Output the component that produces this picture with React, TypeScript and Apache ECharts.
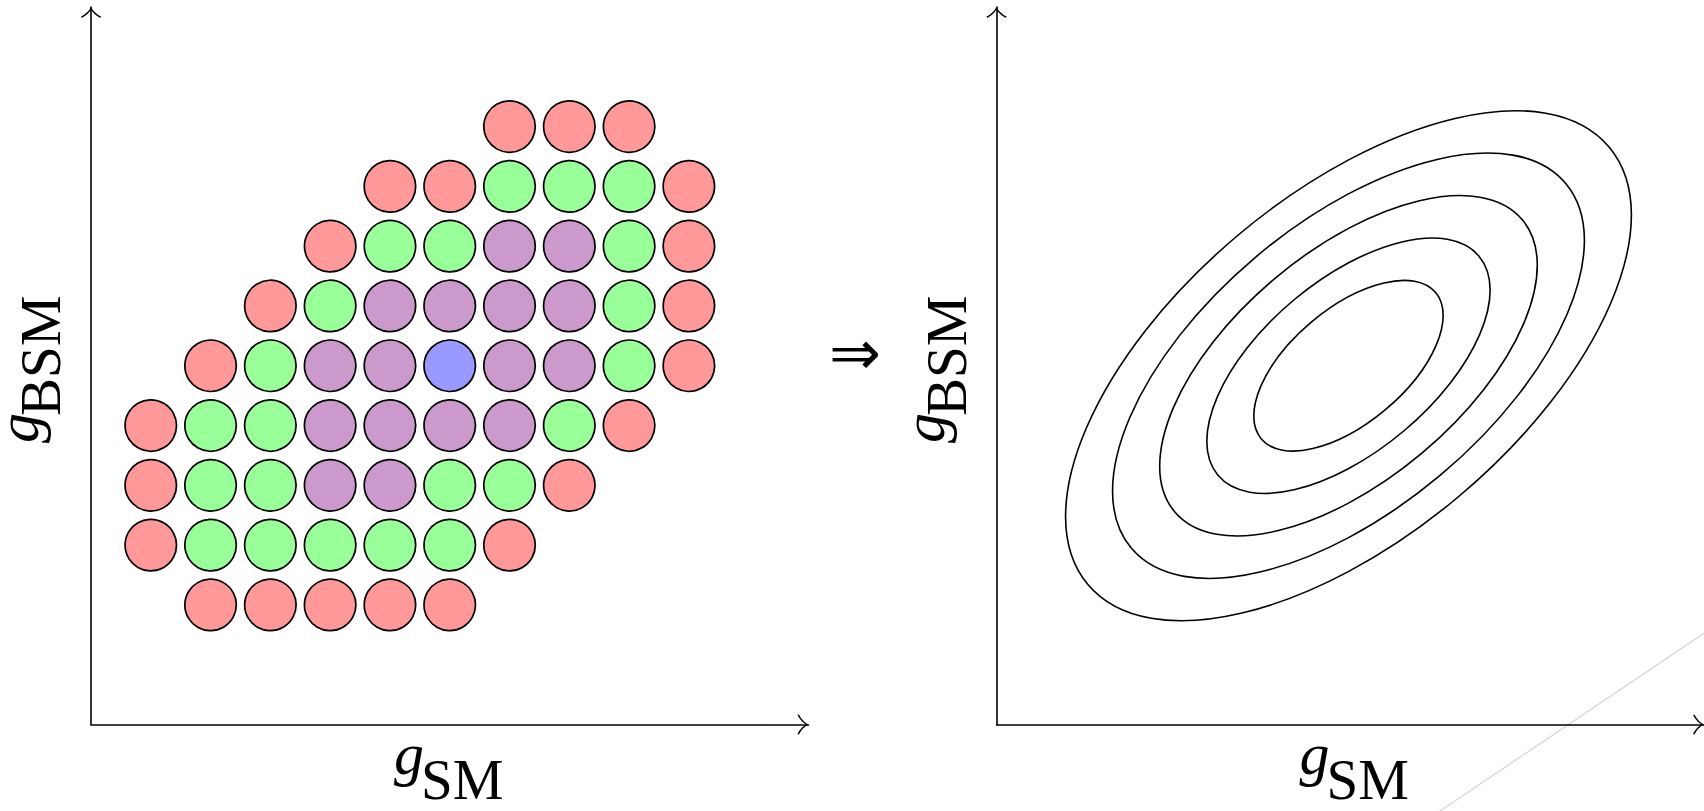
import React, { useEffect, useRef } from "react";
import * as echarts from "echarts";

// ---- data (all in axis units, both axes run 0..12) ----
const axisMin = 0;
const axisMax = 12;

const redCells = [
  [7, 10], [8, 10], [9, 10],
  [5, 9], [6, 9], [10, 9],
  [4, 8], [10, 8],
  [3, 7], [10, 7],
  [2, 6], [10, 6],
  [1, 5], [9, 5],
  [1, 4], [8, 4],
  [1, 3], [7, 3],
  [2, 2], [3, 2], [4, 2], [5, 2], [6, 2],
];
const greenCells = [
  [7, 9], [8, 9], [9, 9],
  [5, 8], [6, 8], [9, 8],
  [4, 7], [9, 7],
  [3, 6], [9, 6],
  [2, 5], [3, 5], [8, 5],
  [2, 4], [3, 4], [6, 4], [7, 4],
  [2, 3], [3, 3], [4, 3], [5, 3], [6, 3],
];
const violetCells = [
  [7, 8], [8, 8],
  [5, 7], [6, 7], [7, 7], [8, 7],
  [4, 6], [5, 6], [7, 6], [8, 6],
  [4, 5], [5, 5], [6, 5], [7, 5],
  [4, 4], [5, 4],
];
const blueCells = [[6, 6]];

// concentric contour ellipses
const contourCenter = [5.97, 6.0];
const contourSemiMajor = [5.77, 4.81, 3.85, 2.89, 1.93];
const contourSemiMinor = [2.86, 2.39, 1.91, 1.43, 0.96];
const contourTiltDeg = 40;

const labelMain = "g";
const xLabelSub = "SM";
const yLabelSub = "BSM";
const implies = "\u21D2";

// ---- styling ----
const arrowPath =
  "path://M10,0 Q7,6 0,9.6 L0.6,11 Q7.6,7.4 10,2.3 Q12.4,7.4 19.4,11 L20,9.6 Q13,6 10,0 Z";

function makeAxis(gridIndex: number) {
  return {
    type: "value",
    gridIndex,
    min: axisMin,
    max: axisMax,
    axisLine: {
      show: true,
      onZero: false,
      symbol: ["none", arrowPath],
      symbolSize: [20, 11],
      symbolOffset: [0, -5.5],
      lineStyle: { color: "#000", width: 1.6 },
    },
    axisTick: { show: false },
    axisLabel: { show: false },
    splitLine: { show: false },
  };
}

function mathLabel(sub: string, x: number, y: number, rotation: number, width: number, gShift: number) {
  const u0 = -width / 2;
  return {
    type: "group",
    x,
    y,
    rotation,
    silent: true,
    children: [
      {
        type: "text",
        x: u0 + 1,
        y: -45 + gShift,
        style: {
          text: labelMain,
          font: 'italic 60px "Liberation Serif"',
          fill: "#000",
          align: "left",
          verticalAlign: "middle",
          textAlign: "left",
          textVerticalAlign: "middle",
        },
      },
      {
        type: "text",
        x: u0 + 28,
        y: -19.4,
        style: {
          text: sub,
          font: '57px "Liberation Serif"',
          fill: "#000",
          align: "left",
          verticalAlign: "middle",
          textAlign: "left",
          textVerticalAlign: "middle",
        },
      },
    ],
  };
}

function cellSeries(data: number[][], color: string) {
  return {
    type: "scatter",
    xAxisIndex: 0,
    yAxisIndex: 0,
    data,
    symbol: "circle",
    symbolSize: 51.5,
    silent: true,
    itemStyle: { color, borderColor: "#000", borderWidth: 1.7, opacity: 1 },
  };
}

export default function App() {
  const ref = useRef<HTMLDivElement>(null);
  useEffect(() => {
    if (!ref.current) return;
    const chart = echarts.init(ref.current, undefined, { renderer: "svg" });
    const option: any = {
      animation: false,
      backgroundColor: "#fff",
      grid: [
        { left: 91, top: 7, width: 717.5, height: 717.5 },
        { left: 996.5, top: 7, width: 717.5, height: 717.5 },
      ],
      xAxis: [makeAxis(0), makeAxis(1)],
      yAxis: [makeAxis(0), makeAxis(1)],
      series: [
        cellSeries(redCells, "#ff9999"),
        cellSeries(greenCells, "#99ff99"),
        cellSeries(violetCells, "#cc99cc"),
        cellSeries(blueCells, "#9999ff"),
        {
          type: "custom",
          coordinateSystem: "cartesian2d",
          xAxisIndex: 1,
          yAxisIndex: 1,
          silent: true,
          encode: { x: 0, y: 1 },
          data: contourSemiMajor.map((a, i) => [
            contourCenter[0],
            contourCenter[1],
            a,
            contourSemiMinor[i],
          ]),
          renderItem: (params: any, api: any) => {
            const c = api.coord([api.value(0), api.value(1)]);
            const rx = api.size([api.value(2), 0])[0];
            const ry = api.size([0, api.value(3)])[1];
            return {
              type: "ellipse",
              x: c[0],
              y: c[1],
              rotation: (contourTiltDeg * Math.PI) / 180,
              shape: { cx: 0, cy: 0, rx, ry },
              style: { fill: "none", stroke: "#000", lineWidth: 1.6 },
            };
          },
        },
      ],
      graphic: [
        mathLabel(xLabelSub, 447.5, 798.5, 0, 109, 0),
        mathLabel(xLabelSub, 1353, 798.5, 0, 109, 0),
        mathLabel(yLabelSub, 60, 368.5, Math.PI / 2, 151, 3),
        mathLabel(yLabelSub, 965.5, 368.5, Math.PI / 2, 151, 3),
        {
          type: "text",
          x: 855,
          y: 352,
          silent: true,
          style: {
            text: implies,
            font: '62px "DejaVu Sans"',
            fill: "#000",
            align: "center",
            verticalAlign: "middle",
            textAlign: "center",
            textVerticalAlign: "middle",
          },
        },
        {
          type: "line",
          silent: true,
          shape: { x1: 1420, y1: 824.5, x2: 1760, y2: 595.6 },
          style: { stroke: "#d4d4d4", lineWidth: 1.2 },
        },
      ],
    };
    chart.setOption(option);
    return () => chart.dispose();
  }, []);
  return (
    <div
      ref={ref}
      style={{ position: "absolute", left: 0, top: 0, width: 1704, height: 811, background: "#fff" }}
    />
  );
}
